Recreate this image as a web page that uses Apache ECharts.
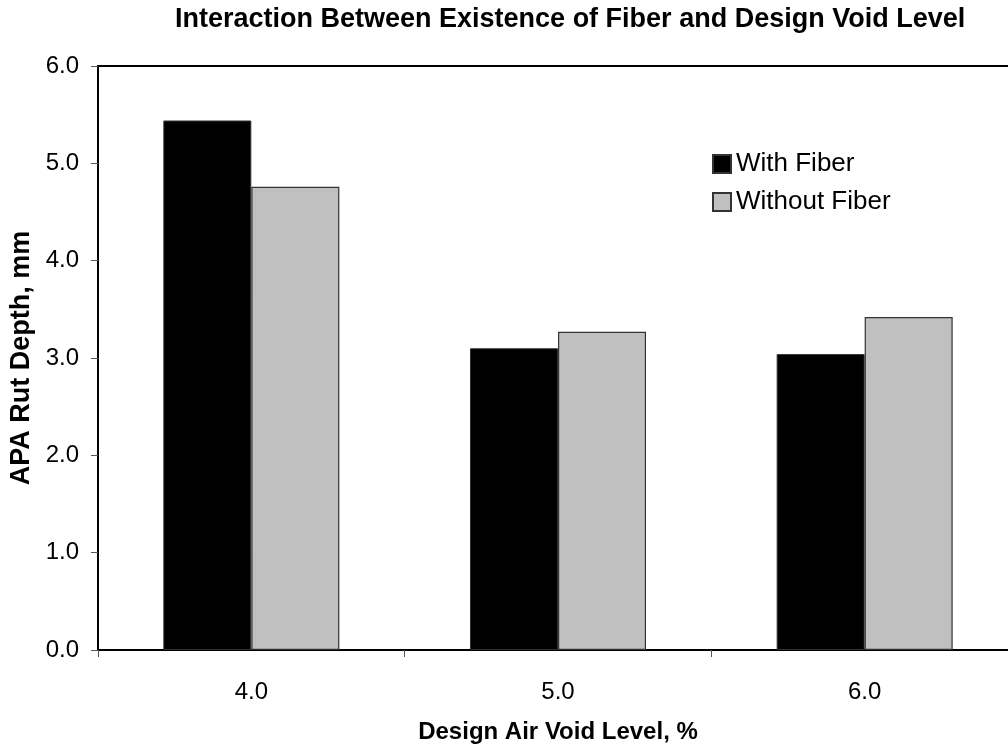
<!DOCTYPE html>
<html><head><meta charset="utf-8">
<script src="https://cdn.jsdelivr.net/npm/echarts@6/dist/echarts.min.js"></script>
<style>html,body{margin:0;padding:0;background:#fff}#c{width:1008px;height:745px}</style>
</head><body><div id="c"></div>
<script>
const categories = ['4.0', '5.0', '6.0'];
const withFiber = [5.44, 3.10, 3.04];
const withoutFiber = [4.76, 3.27, 3.42];
const yTicks = { min: 0, max: 6, interval: 1 };

const F = '"Liberation Sans", Arial, sans-serif';
const chart = echarts.init(document.getElementById('c'), null, { renderer: 'canvas' });
chart.setOption({
  backgroundColor: '#fff',
  animation: false,
  title: {
    text: 'Interaction Between Existence of Fiber and Design Void Level',
    left: 175, top: 6, padding: 0,
    textStyle: { fontFamily: F, fontSize: 27, fontWeight: 'bold', color: '#000' }
  },
  legend: {
    orient: 'vertical', left: 712, top: 151, padding: 0,
    itemWidth: 18, itemHeight: 18, itemGap: 12, icon: 'rect',
    textStyle: { fontFamily: F, fontSize: 26, color: '#000', lineHeight: 26 }
  },
  grid: { left: 98, width: 920, top: 66, height: 584, outerBoundsMode: 'none', containLabel: false,
          show: true, borderColor: '#000', borderWidth: 2 },
  xAxis: {
    type: 'category', data: categories,
    name: 'Design Air Void Level, %', nameLocation: 'middle', nameGap: 70,
    nameTextStyle: { fontFamily: F, fontSize: 24, fontWeight: 'bold', color: '#000' },
    axisLine: { lineStyle: { color: '#000', width: 2 } },
    axisTick: { show: true, length: 7, lineStyle: { color: '#555', width: 1 } },
    axisLabel: { fontFamily: F, fontSize: 24, color: '#000', margin: 30 }
  },
  yAxis: {
    type: 'value', min: yTicks.min, max: yTicks.max, interval: yTicks.interval,
    name: 'APA Rut Depth, mm', nameLocation: 'middle', nameGap: 62,
    nameTextStyle: { fontFamily: F, fontSize: 27, fontWeight: 'bold', color: '#000' },
    axisLine: { show: true, lineStyle: { color: '#000', width: 2 } },
    axisTick: { show: true, length: 7, lineStyle: { color: '#555', width: 1 } },
    splitLine: { show: false },
    axisLabel: { fontFamily: F, fontSize: 24, color: '#000', margin: 19, formatter: v => v.toFixed(1) }
  },
  series: [
    { name: 'With Fiber', type: 'bar', data: withFiber, barGap: '0%', barCategoryGap: '42.6%',
      itemStyle: { color: '#000', borderColor: '#333', borderWidth: 1 } },
    { name: 'Without Fiber', type: 'bar', data: withoutFiber,
      itemStyle: { color: '#c0c0c0', borderColor: '#333', borderWidth: 1.2 } }
  ]
});
</script></body></html>
